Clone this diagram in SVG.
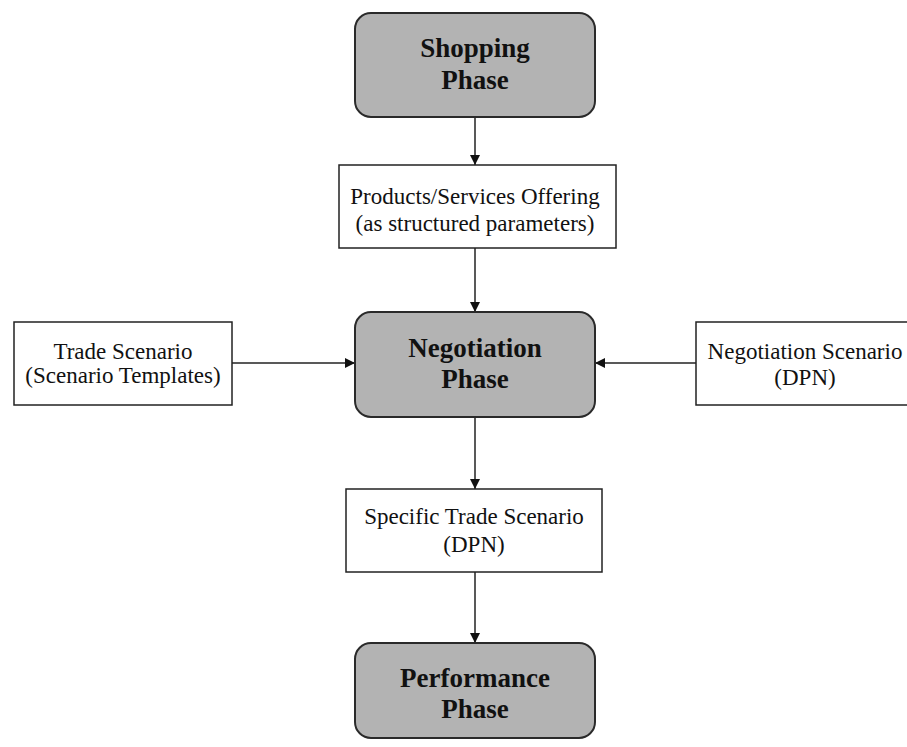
<svg xmlns="http://www.w3.org/2000/svg" width="907" height="747" viewBox="0 0 907 747">
  <style>
    .phase { fill: #b3b3b3; stroke: #2a2a2a; stroke-width: 2; }
    .info { fill: #ffffff; stroke: #222222; stroke-width: 1.5; }
    .ptxt { font-family: "Liberation Serif", "Times New Roman", serif; font-size: 27px; font-weight: bold; fill: #111; text-anchor: middle; }
    .itxt { font-family: "Liberation Serif", "Times New Roman", serif; font-size: 23px; fill: #111; text-anchor: middle; }
    .conn { stroke: #222; stroke-width: 1.5; fill: none; marker-end: url(#arrow); }
  </style>
  <defs>
    <marker id="arrow" viewBox="0 0 10 10" refX="10" refY="5" markerWidth="10" markerHeight="10" markerUnits="userSpaceOnUse" orient="auto">
      <path d="M0,0 L10,5 L0,10 z" fill="#111"/>
    </marker>
  </defs>

  <rect width="907" height="747" fill="#ffffff"/>

  <!-- connectors -->
  <g id="connectors">
    <line class="conn" x1="475" y1="117" x2="475" y2="165"/>
    <line class="conn" x1="475" y1="248" x2="475" y2="312"/>
    <line class="conn" x1="232" y1="363" x2="355" y2="363"/>
    <line class="conn" x1="696" y1="363" x2="595" y2="363"/>
    <line class="conn" x1="475" y1="417" x2="475" y2="489"/>
    <line class="conn" x1="475" y1="572" x2="475" y2="643"/>
  </g>

  <!-- phases -->
  <g id="shopping-phase">
    <rect class="phase" x="355" y="13" width="240" height="104" rx="16"/>
    <text class="ptxt" x="475" y="57">Shopping</text>
    <text class="ptxt" x="475" y="89">Phase</text>
  </g>

  <g id="negotiation-phase">
    <rect class="phase" x="355" y="312" width="240" height="105" rx="16"/>
    <text class="ptxt" x="475" y="357">Negotiation</text>
    <text class="ptxt" x="475" y="388">Phase</text>
  </g>

  <g id="performance-phase">
    <rect class="phase" x="355" y="643" width="240" height="95" rx="16"/>
    <text class="ptxt" x="475" y="687">Performance</text>
    <text class="ptxt" x="475" y="718">Phase</text>
  </g>

  <!-- information boxes -->
  <g id="products-offering">
    <rect class="info" x="339" y="165" width="277" height="83"/>
    <text class="itxt" x="475" y="204">Products/Services Offering</text>
    <text class="itxt" x="475" y="231">(as structured parameters)</text>
  </g>

  <g id="trade-scenario">
    <rect class="info" x="14" y="322" width="218" height="83"/>
    <text class="itxt" x="123" y="359">Trade Scenario</text>
    <text class="itxt" x="123" y="383">(Scenario Templates)</text>
  </g>

  <g id="negotiation-scenario">
    <rect class="info" x="696" y="322" width="220" height="83"/>
    <text class="itxt" x="805" y="359">Negotiation Scenario</text>
    <text class="itxt" x="805" y="385">(DPN)</text>
  </g>

  <g id="specific-trade-scenario">
    <rect class="info" x="346" y="489" width="256" height="83"/>
    <text class="itxt" x="474" y="524">Specific Trade Scenario</text>
    <text class="itxt" x="474" y="552">(DPN)</text>
  </g>
</svg>
